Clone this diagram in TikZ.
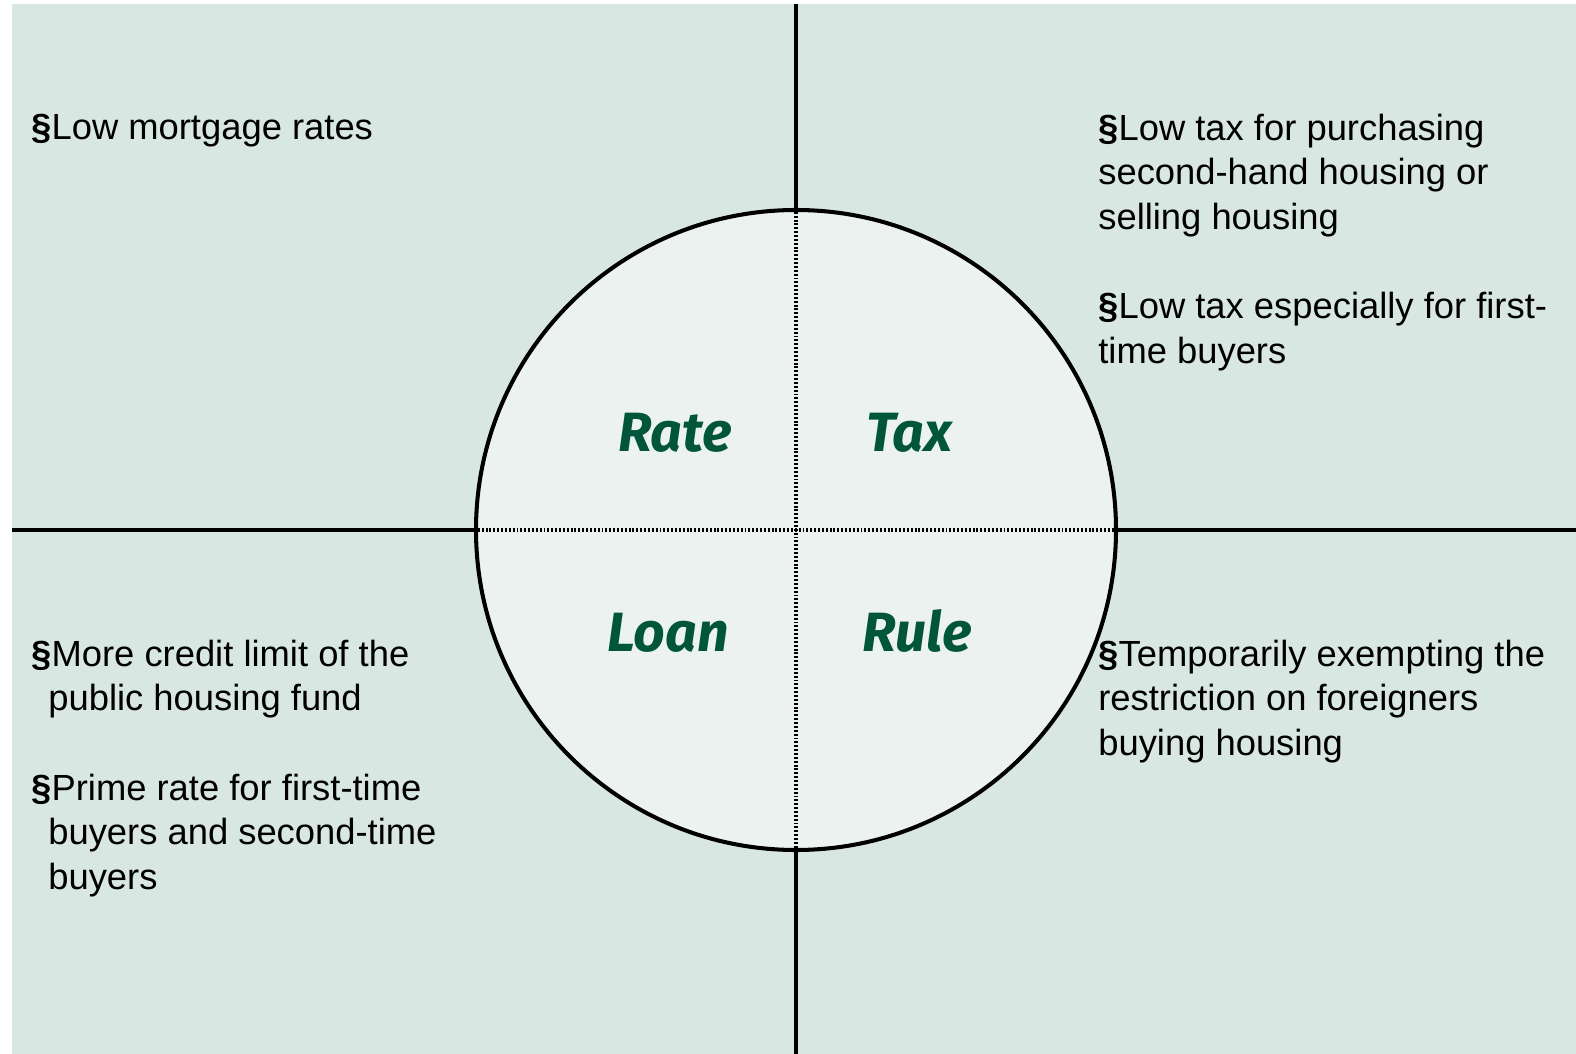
\documentclass[tikz,border=0pt]{standalone}
\usepackage{fontspec}
\setmainfont{Liberation Sans}
\newfontfamily\tagfont{Fira Sans}
\usepackage{tikz}
\definecolor{paneback}{HTML}{D9E7E2}
\definecolor{hubfill}{HTML}{EBF2EF}
\definecolor{tagcolor}{HTML}{00553A}
\newcommand{\pt}{{\bfseries\S}}

\begin{document}
\begin{tikzpicture}[x=0.02cm,y=-0.02cm]
\tikzstyle{every node}+=[inner sep=0pt]
\tikzset{
  note/.style={anchor=base west, align=left, font=\fontsize{20.7}{25.4}\selectfont},
  tag/.style={anchor=base, text=tagcolor, font=\tagfont\fontsize{31.5}{33}\selectfont\bfseries\itshape},
  axis/.style={black, line width=2.2pt},
  seam/.style={black, line width=2pt, dash pattern=on 1.1pt off 1.1pt}
}
\useasboundingbox (0,0) rectangle (1576,1054);
\fill [paneback] (12,4) rectangle (1576,1054);

% the wheel in the middle
\node (hub) [circle, draw=black, line width=2.3pt, fill=hubfill, minimum size=640*0.02cm] at (796,530) {};
\coordinate (top) at (796,4);
\coordinate (bottom) at (796,1054);
\coordinate (left) at (12,530);
\coordinate (right) at (1576,530);
\draw [axis] (top) -- (hub.north);
\draw [axis] (hub.south) -- (bottom);
\draw [axis] (left) -- (hub.west);
\draw [axis] (hub.east) -- (right);
\draw [seam] (hub.north) -- (hub.south);
\draw [seam] (hub.west) -- (hub.east);

\node (rate) [tag] at (675,451) {Rate};
\node (tax) [tag] at (909.5,451) {Tax};
\node (loan) [tag] at (668,651) {Loan};
\node (rule) [tag] at (917,651) {Rule};

% the four corners
\node (lowrate) [note] at (31,140) {\pt Low mortgage rates};
\node (lowtax) [note] at (1098,229.4) {\pt Low tax for purchasing\\second-hand housing or\\selling housing};
\node (firsttax) [note] at (1098,363.3) {\pt Low tax especially for first-\\time buyers};
\node (credit) [note] at (31,710.7) {\pt More credit limit of the\\\hspace{0.34cm}public housing fund};
\node (prime) [note] at (31,889.3) {\pt Prime rate for first-time\\\hspace{0.34cm}buyers and second-time\\\hspace{0.34cm}buyers};
\node (foreign) [note] at (1098,755.4) {\pt Temporarily exempting the\\restriction on foreigners\\buying housing};
\end{tikzpicture}
\end{document}
